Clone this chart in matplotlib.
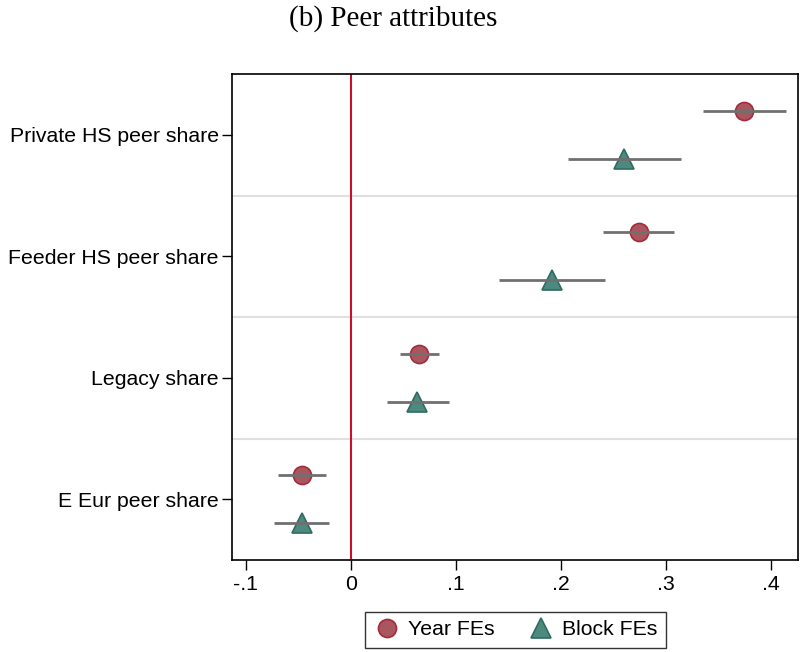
import matplotlib.pyplot as plt
import numpy as np

# 변수 이름과 추정치
categories = ["Private HS peer share", "Feeder HS peer share", "Legacy share", "E Eur peer share"]

year_coef = [0.374, 0.274, 0.065, -0.0465]
year_lo = [0.335, 0.240, 0.0465, -0.069]
year_hi = [0.414, 0.308, 0.084, -0.0236]

block_coef = [0.260, 0.191, 0.063, -0.047]
block_lo = [0.207, 0.141, 0.034, -0.073]
block_hi = [0.314, 0.242, 0.093, -0.021]

xticks = [-0.1, 0, 0.1, 0.2, 0.3, 0.4]
xticklabels = ["-.1", "0", ".1", ".2", ".3", ".4"]

plt.rcParams['font.family'] = ['Liberation Sans', 'DejaVu Sans']

fig = plt.figure(figsize=(8.01, 6.52), dpi=100)
ax = fig.add_axes([0.2896, 0.1411, 0.7067, 0.7454])

pos = np.arange(len(categories))
off = 0.198

# 구분선
for b in [0.5, 1.5, 2.5]:
    ax.axhline(b, color='#e0e0e0', linewidth=1.5, zorder=1)

ax.axvline(0, color='#c8102e', linewidth=1.5, zorder=2)

# 신뢰구간
ax.hlines(pos - off, year_lo, year_hi, color='#707070', linewidth=2, zorder=4)
ax.hlines(pos + off, block_lo, block_hi, color='#707070', linewidth=2, zorder=4)

# 점 추정치
ax.plot(year_coef, pos - off, 'o', markersize=13, markerfacecolor='#aa565f',
        markeredgecolor='#a22c3c', markeredgewidth=1.2, linestyle='none',
        label='Year FEs', zorder=3)
ax.plot(block_coef, pos + off, '^', markersize=14, markerfacecolor='#4c8a80',
        markeredgecolor='#2f6b61', markeredgewidth=1.2, linestyle='none',
        label='Block FEs', zorder=3)

ax.set_ylim(3.5, -0.5)
ax.set_xlim(-0.1133, 0.4257)
ax.set_yticks(pos)
ax.set_yticklabels(categories, fontsize=15.3)
ax.set_xticks(xticks)
ax.set_xticklabels(xticklabels, fontsize=15.3)
ax.tick_params(axis='both', direction='out', length=7, width=1, color='black')
ax.tick_params(axis='y', pad=2.5)
ax.tick_params(axis='x', pad=4)
for s in ax.spines.values():
    s.set_linewidth(1.2)

fig.text(0.491, 0.971, "(b) Peer attributes", ha='center', va='center',
         fontsize=21, family=['Liberation Serif', 'DejaVu Serif'])

leg = fig.legend(loc='center', bbox_to_anchor=(0.644, 0.0345), ncol=2,
                 fontsize=15.3, frameon=True, fancybox=False, edgecolor='black',
                 handletextpad=0.4, columnspacing=1.6, handlelength=1.2,
                 borderpad=0.4)
leg.get_frame().set_linewidth(1.0)

fig.savefig('out.png', dpi=100)
